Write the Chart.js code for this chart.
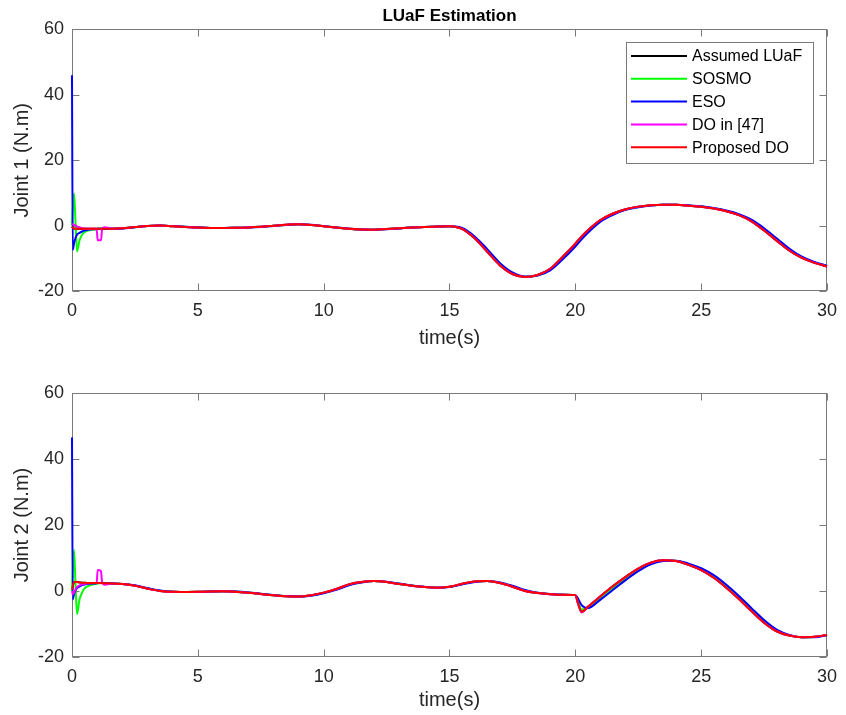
<!DOCTYPE html>
<html><head><meta charset="utf-8">
<script src="https://cdn.jsdelivr.net/npm/chart.js@4/dist/chart.umd.min.js"></script>
<style>
html,body{margin:0;padding:0;background:#fff;width:846px;height:715px;overflow:hidden;}
canvas{position:absolute;left:0;}
#c1{top:0;}
#c2{top:365px;}
</style></head><body>
<canvas id="c1" width="846" height="365"></canvas>
<canvas id="c2" width="846" height="350"></canvas>
<script>
// time grid (s)
const time = [0, 0.03, 0.08, 0.14, 0.2, 0.3, 0.4, 0.5, 0.7, 0.98, 1.02, 1.15, 1.2, 1.3, 1.6,
  2, 2.5, 3, 3.5, 4, 4.5, 5, 5.5, 6, 6.5, 7, 7.5, 8, 8.5, 9, 9.5, 10, 10.5, 11, 11.5, 12, 12.5, 13, 13.5, 14, 14.5, 15,
  15.15, 15.5, 16, 16.5, 17, 17.5, 18, 18.5, 19, 19.5, 20,
  20.1, 20.25,
  20.5, 21, 21.5, 22, 22.5, 23, 23.5, 24, 24.5, 25, 25.5, 26, 26.5, 27, 27.5, 28, 28.5, 29, 29.5, 30];

const xTicks = [0, 5, 10, 15, 20, 25, 30];
const yTicks = [-20, 0, 20, 40, 60];
const seriesNames = ['Assumed LUaF', 'SOSMO', 'ESO', 'DO in [47]', 'Proposed DO'];

// Joint 1
const j1Assumed = [-0.3, -0.6, -0.9, -1.0, -1.0, -1.0, -1.0, -1.0, -1.0, -1.0, -1.0, -1.0, -1.0, -1.0, -0.95,
  -0.8, -0.45, -0.1, 0.0, -0.2, -0.4, -0.6, -0.7, -0.7, -0.65, -0.55, -0.35, -0.05, 0.25, 0.4, 0.2, -0.2, -0.6, -1.0, -1.2, -1.25, -1.05, -0.8, -0.55, -0.4, -0.3, -0.2,
  -0.3, -1.0, -3.9, -8.0, -12.1, -14.8, -15.7, -15.1, -13.2, -9.5, -5.5,
  -4.6, -3.3,
  -1.4, 1.7, 3.7, 5.0, 5.8, 6.25, 6.4, 6.35, 6.1, 5.8, 5.2, 4.4, 3.2, 1.3, -1.5, -4.6, -7.6, -9.9, -11.4, -12.5];
const j1Sosmo = [0.0, 5.0, 9.8, 1.0, -7.9, -4.5, -2.8, -2.0, -1.4, -1.1, -1.05, -1.0, -1.0, -1.0, -0.95,
  -0.82, -0.47, -0.12, 0.0, -0.18, -0.38, -0.58, -0.7, -0.7, -0.65, -0.56, -0.37, -0.07, 0.22, 0.4, 0.22, -0.18, -0.58, -0.98, -1.2, -1.25, -1.07, -0.82, -0.57, -0.41, -0.3, -0.2,
  -0.28, -0.85, -3.6, -7.6, -11.75, -14.55, -15.65, -15.2, -13.45, -9.95, -5.95,
  -5.05, -3.75,
  -1.8, 1.45, 3.5, 4.9, 5.7, 6.2, 6.4, 6.38, 6.15, 5.85, 5.28, 4.5, 3.35, 1.55, -1.15, -4.25, -7.3, -9.7, -11.25, -12.4];
const j1Eso = [46.0, -7.4, -5.5, -3.8, -2.8, -2.2, -1.8, -1.5, -1.2, -1.05, -1.0, -1.0, -1.0, -1.0, -0.95,
  -0.85, -0.5, -0.15, 0.0, -0.15, -0.35, -0.55, -0.7, -0.7, -0.65, -0.58, -0.4, -0.1, 0.2, 0.4, 0.25, -0.15, -0.55, -0.95, -1.2, -1.25, -1.1, -0.85, -0.6, -0.42, -0.3, -0.2,
  -0.25, -0.7, -3.3, -7.2, -11.4, -14.3, -15.6, -15.3, -13.7, -10.3, -6.4,
  -5.5, -4.2,
  -2.2, 1.2, 3.3, 4.8, 5.6, 6.15, 6.4, 6.4, 6.2, 5.9, 5.35, 4.6, 3.5, 1.8, -0.8, -3.9, -7.0, -9.5, -11.1, -12.3];
const j1Do47 = [0.3, 0.4, 0.3, 0.0, -0.3, -0.6, -0.8, -0.9, -1.0, -1.0, -4.5, -4.5, -1.0, -0.5, -0.95,
  -0.8, -0.45, -0.1, 0.0, -0.2, -0.4, -0.6, -0.7, -0.7, -0.65, -0.55, -0.35, -0.05, 0.25, 0.4, 0.2, -0.2, -0.6, -1.0, -1.2, -1.25, -1.05, -0.8, -0.55, -0.4, -0.3, -0.2,
  -0.3, -1.0, -3.9, -8.0, -12.1, -14.8, -15.7, -15.1, -13.2, -9.5, -5.5,
  -4.6, -3.3,
  -1.4, 1.7, 3.7, 5.0, 5.8, 6.25, 6.4, 6.35, 6.1, 5.8, 5.2, 4.4, 3.2, 1.3, -1.5, -4.6, -7.6, -9.9, -11.4, -12.5];
const j1Proposed = [-0.3, -0.6, -0.9, -1.0, -1.0, -1.0, -1.0, -1.0, -1.0, -1.0, -1.0, -1.0, -1.0, -1.0, -0.95,
  -0.8, -0.45, -0.1, 0.0, -0.2, -0.4, -0.6, -0.7, -0.7, -0.65, -0.55, -0.35, -0.05, 0.25, 0.4, 0.2, -0.2, -0.6, -1.0, -1.2, -1.25, -1.05, -0.8, -0.55, -0.4, -0.3, -0.2,
  -0.3, -1.0, -3.9, -8.0, -12.1, -14.8, -15.7, -15.1, -13.2, -9.5, -5.5,
  -4.6, -3.3,
  -1.4, 1.7, 3.7, 5.0, 5.8, 6.25, 6.4, 6.35, 6.1, 5.8, 5.2, 4.4, 3.2, 1.3, -1.5, -4.6, -7.6, -9.9, -11.4, -12.5];

// Joint 2
const j2Assumed = [0.3, 1.5, 2.6, 2.8, 2.7, 2.6, 2.5, 2.5, 2.4, 2.4, 2.4, 2.4, 2.4, 2.35, 2.3,
  2.1, 1.6, 0.7, 0.0, -0.25, -0.3, -0.25, -0.15, -0.1, -0.2, -0.5, -0.9, -1.3, -1.6, -1.7, -1.3, -0.5, 0.6, 2.0, 2.7, 3.0, 2.7, 2.1, 1.6, 1.2, 1.0, 1.3,
  1.5, 2.2, 2.9, 3.0, 2.4, 1.3, 0.0, -0.6, -0.95, -1.15, -1.25,
  -3.5, -6.3,
  -4.8, -1.6, 1.5, 4.3, 6.8, 8.6, 9.3, 9.1, 7.9, 6.3, 4.0, 1.0, -2.4, -6.1, -9.6, -12.2, -13.5, -14.0, -13.9, -13.3];
const j2Sosmo = [0.0, 6.0, 12.4, 2.0, -7.0, -2.5, -0.5, 0.8, 1.7, 2.2, 2.3, 2.35, 2.4, 2.35, 2.3,
  2.12, 1.68, 0.8, 0.07, -0.22, -0.3, -0.26, -0.16, -0.1, -0.17, -0.46, -0.86, -1.26, -1.58, -1.7, -1.36, -0.6, 0.48, 1.88, 2.62, 3.0, 2.75, 2.18, 1.65, 1.25, 1.0, 1.25,
  1.45, 2.1, 2.82, 3.02, 2.5, 1.45, 0.15, -0.55, -0.92, -1.12, -1.25,
  -2.8, -5.6,
  -5.0, -2.0, 1.0, 3.8, 6.4, 8.35, 9.2, 9.15, 8.1, 6.6, 4.4, 1.45, -1.95, -5.65, -9.2, -11.95, -13.4, -14.0, -13.95, -13.35];
const j2Eso = [46.5, -2.5, -1.0, 0.2, 0.9, 1.4, 1.8, 2.0, 2.2, 2.35, 2.4, 2.4, 2.4, 2.35, 2.3,
  2.15, 1.75, 0.9, 0.15, -0.2, -0.3, -0.27, -0.17, -0.1, -0.15, -0.42, -0.82, -1.22, -1.55, -1.7, -1.42, -0.7, 0.35, 1.75, 2.55, 3.0, 2.8, 2.25, 1.7, 1.3, 1.0, 1.2,
  1.4, 2.0, 2.75, 3.05, 2.6, 1.6, 0.3, -0.5, -0.9, -1.1, -1.25,
  -2.2, -4.3,
  -5.2, -2.6, 0.4, 3.3, 6.0, 8.1, 9.1, 9.2, 8.3, 6.9, 4.8, 1.9, -1.5, -5.2, -8.8, -11.7, -13.3, -14.0, -14.0, -13.4];
const j2Do47 = [0.0, -1.0, -0.5, 0.5, 1.2, 1.7, 2.0, 2.2, 2.35, 2.4, 6.4, 6.1, 2.4, 1.9, 2.3,
  2.1, 1.6, 0.7, 0.0, -0.25, -0.3, -0.25, -0.15, -0.1, -0.2, -0.5, -0.9, -1.3, -1.6, -1.7, -1.3, -0.5, 0.6, 2.0, 2.7, 3.0, 2.7, 2.1, 1.6, 1.2, 1.0, 1.3,
  1.5, 2.2, 2.9, 3.0, 2.4, 1.3, 0.0, -0.6, -0.95, -1.15, -1.25,
  -3.7, -6.5,
  -4.8, -1.6, 1.5, 4.3, 6.8, 8.6, 9.3, 9.1, 7.9, 6.3, 4.0, 1.0, -2.4, -6.1, -9.6, -12.2, -13.5, -14.0, -13.9, -13.3];
const j2Proposed = [0.3, 1.5, 2.6, 2.8, 2.7, 2.6, 2.5, 2.5, 2.4, 2.4, 2.4, 2.4, 2.4, 2.35, 2.3,
  2.1, 1.6, 0.7, 0.0, -0.25, -0.3, -0.25, -0.15, -0.1, -0.2, -0.5, -0.9, -1.3, -1.6, -1.7, -1.3, -0.5, 0.6, 2.0, 2.7, 3.0, 2.7, 2.1, 1.6, 1.2, 1.0, 1.3,
  1.5, 2.2, 2.9, 3.0, 2.4, 1.3, 0.0, -0.6, -0.95, -1.15, -1.25,
  -3.5, -6.3,
  -4.8, -1.6, 1.5, 4.3, 6.8, 8.6, 9.3, 9.1, 7.9, 6.3, 4.0, 1.0, -2.4, -6.1, -9.6, -12.2, -13.5, -14.0, -13.9, -13.3];

// ---- styles ----
const FONT = "'Liberation Sans', Arial, Helvetica, sans-serif";
const AXIS_COLOR = '#7a7a7a';
const TEXT_COLOR = '#262626';
const COLORS = ['#000000', '#00ff00', '#0000ff', '#ff00ff', '#ff0000'];
const DRAW_ORDER = [4, 3, 2, 1, 0];

function toPoints(vals) { return time.map((t, i) => ({ x: t, y: vals[i] })); }

const framePlugin = {
  id: 'matlabFrame',
  beforeDatasetsDraw(chart) {
    const { ctx, chartArea: a, scales: { x, y } } = chart;
    ctx.save();
    ctx.strokeStyle = AXIS_COLOR;
    ctx.lineWidth = 1;
    const L = Math.round(a.left) + 0.5, R = Math.round(a.right) - 0.5;
    const T = Math.round(a.top) + 0.5, B = Math.round(a.bottom) - 0.5;
    ctx.strokeRect(L, T, R - L, B - T);
    ctx.beginPath();
    const tl = 7;
    x.ticks.forEach(tk => {
      const px = Math.round(x.getPixelForValue(tk.value)) + 0.5;
      ctx.moveTo(px, B); ctx.lineTo(px, B - tl);
      ctx.moveTo(px, T); ctx.lineTo(px, T + tl);
    });
    y.ticks.forEach(tk => {
      const py = Math.round(y.getPixelForValue(tk.value)) + 0.5;
      ctx.moveTo(L, py); ctx.lineTo(L + tl, py);
      ctx.moveTo(R, py); ctx.lineTo(R - tl, py);
    });
    ctx.stroke();
    ctx.restore();
  }
};

const legendPlugin = {
  id: 'insideLegend',
  afterDatasetsDraw(chart, args, opts) {
    if (!opts || !opts.show) return;
    const { ctx, chartArea: a } = chart;
    const w = 187, h = 121;
    const left = Math.round(a.right - 14 - w), top = Math.round(a.top + 13);
    ctx.save();
    ctx.fillStyle = '#ffffff';
    ctx.fillRect(left, top, w, h);
    ctx.strokeStyle = AXIS_COLOR; ctx.lineWidth = 1;
    ctx.strokeRect(left + 0.5, top + 0.5, w, h);
    ctx.font = '16px ' + FONT;
    ctx.textBaseline = 'middle'; ctx.textAlign = 'left';
    chart.data.datasets.forEach((ds, i) => {
      const yy = top + 14 + i * 22.8;
      ctx.strokeStyle = ds.borderColor; ctx.lineWidth = 2;
      ctx.beginPath(); ctx.moveTo(left + 5, yy); ctx.lineTo(left + 61, yy); ctx.stroke();
      ctx.fillStyle = '#000000';
      ctx.fillText(ds.label, left + 66, yy + 1);
    });
    ctx.restore();
  }
};

function makeChart(id, series, yLabel, cfg) {
  const datasets = series.map((vals, i) => ({
    label: seriesNames[i],
    data: toPoints(vals),
    borderColor: COLORS[i],
    backgroundColor: COLORS[i],
    borderWidth: 2,
    pointRadius: 0,
    fill: false,
    clip: 3,
    cubicInterpolationMode: 'monotone',
    order: DRAW_ORDER[i]
  }));
  return new Chart(document.getElementById(id), {
    type: 'line',
    data: { datasets },
    plugins: [framePlugin, legendPlugin],
    options: {
      responsive: false,
      animation: false,
      devicePixelRatio: 1,
      layout: { padding: { top: cfg.padTop, right: 13, left: 0, bottom: 0 } },
      plugins: {
        legend: { display: false },
        tooltip: { enabled: false },
        insideLegend: { show: cfg.legend },
        title: cfg.title ? {
          display: true, text: cfg.title, fullSize: false, color: '#000000',
          font: { family: FONT, size: 17, weight: 'bold' }, padding: { top: 6, bottom: 3 }
        } : { display: false }
      },
      scales: {
        x: {
          type: 'linear', min: 0, max: 30,
          afterBuildTicks: (s) => { s.ticks = xTicks.map(v => ({ value: v })); },
          ticks: { color: TEXT_COLOR, font: { family: FONT, size: 18 }, padding: 9, maxRotation: 0, autoSkip: false },
          grid: { display: false, drawTicks: false },
          border: { display: false },
          title: { display: true, text: 'time(s)', color: TEXT_COLOR, font: { family: FONT, size: 20 }, padding: { top: 0, bottom: cfg.xTitlePad } },
          afterFit: (s) => { s.height = cfg.xH; }
        },
        y: {
          type: 'linear', min: -20, max: 60,
          afterBuildTicks: (s) => { s.ticks = yTicks.map(v => ({ value: v })); },
          ticks: { color: TEXT_COLOR, font: { family: FONT, size: 18 }, padding: 8 },
          grid: { display: false, drawTicks: false },
          border: { display: false },
          title: { display: true, text: yLabel, color: TEXT_COLOR, font: { family: FONT, size: 20 }, padding: { top: 10, bottom: 0 } },
          afterFit: (s) => { s.width = 72; }
        }
      }
    }
  });
}

makeChart('c1', [j1Assumed, j1Sosmo, j1Eso, j1Do47, j1Proposed], 'Joint 1 (N.m)',
  { padTop: 0, title: 'LUaF Estimation', legend: true, xH: 74, xTitlePad: 15 });
makeChart('c2', [j2Assumed, j2Sosmo, j2Eso, j2Do47, j2Proposed], 'Joint 2 (N.m)',
  { padTop: 28, title: null, legend: false, xH: 58, xTitlePad: 3 });
</script>
</body></html>
